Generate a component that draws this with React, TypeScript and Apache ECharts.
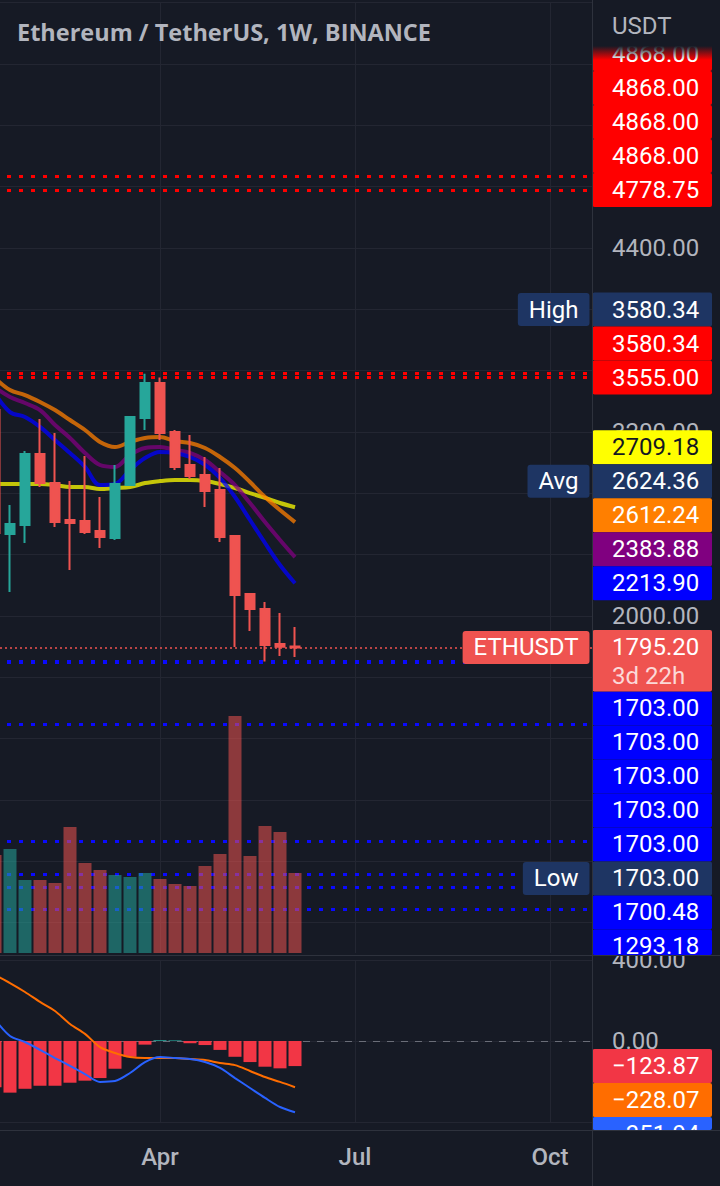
import { useEffect, useRef } from 'react';
import * as echarts from 'echarts';

// ---------- data ----------
const WEEKS = [
  '2022-01-17', '2022-01-24', '2022-01-31', '2022-02-07', '2022-02-14', '2022-02-21', '2022-02-28',
  '2022-03-07', '2022-03-14', '2022-03-21', '2022-03-28', '2022-04-04', '2022-04-11', '2022-04-18',
  '2022-04-25', '2022-05-02', '2022-05-09', '2022-05-16', '2022-05-23', '2022-05-30', '2022-06-06',
  '2022-06-13', '2022-06-20', '2022-06-27', '2022-07-04', '2022-07-11', '2022-07-18', '2022-07-25',
  '2022-08-01', '2022-08-08', '2022-08-15', '2022-08-22', '2022-08-29', '2022-09-05', '2022-09-12',
  '2022-09-19', '2022-09-26', '2022-10-03', '2022-10-10', '2022-10-17', '2022-10-24',
];
const MONTH_TICKS: Record<string, string> = { '2022-04-04': 'Apr', '2022-07-04': 'Jul', '2022-10-03': 'Oct' };

const OPEN = [3343, 2535, 2593, 3057, 2867, 2626, 2620, 2554, 2509, 2854, 3291, 3520, 3200, 2985, 2920, 2822, 2522, 2143, 2046, 1817, 1801];
const CLOSE = [2541, 2600, 3057, 2867, 2613, 2607, 2548, 2515, 2861, 3298, 3520, 3193, 2972, 2913, 2815, 2515, 2137, 2046, 1811, 1800, 1795.2];
const LOW = [2300, 2157, 2476, 2841, 2580, 2300, 2535, 2443, 2496, 2850, 3213, 3148, 2952, 2893, 2711, 2483, 1798, 1902, 1703, 1739, 1733];
const HIGH = [3410, 2724, 3076, 3285, 3193, 2880, 3043, 2776, 2985, 3305, 3580.34, 3555, 3213, 3180, 3037, 2965, 2528, 2150, 2091, 2020, 1928];
const VOLUME = [3920, 4160, 2920, 2920, 2800, 5040, 3600, 3320, 3120, 3040, 3200, 2960, 2760, 2680, 3480, 3960, 9480, 3880, 5080, 4840, 3200];

const MA_ORANGE = [3552, 3474, 3441, 3396, 3343, 3278, 3213, 3135, 3102, 3135, 3161, 3167, 3141, 3128, 3096, 3037, 2965, 2874, 2776, 2691, 2612.24];
const MA_PURPLE = [3490, 3428, 3389, 3343, 3246, 3161, 3063, 2985, 2972, 3050, 3096, 3102, 3083, 3063, 3017, 2939, 2854, 2737, 2613, 2496, 2383.88];
const MA_BLUE = [3450, 3330, 3298, 3233, 3148, 3063, 2972, 2854, 2861, 2952, 3030, 3070, 3063, 3037, 2985, 2900, 2776, 2626, 2476, 2333, 2213.9];
const MA_YELLOW = [2861, 2861, 2861, 2861, 2854, 2841, 2841, 2828, 2835, 2841, 2867, 2880, 2887, 2887, 2880, 2861, 2835, 2802, 2770, 2737, 2709.18];

const MACD_LINE = [106, 25, -5, -44, -84, -123, -163, -202, -198, -158, -104, -79, -84, -89, -104, -133, -183, -232, -281, -326, -351.94];
const MACD_SIGNAL = [326, 286, 242, 193, 148, 84, 35, -30, -59, -79, -84, -84, -84, -89, -94, -109, -119, -148, -178, -202, -228.07];
const MACD_HIST = [-229, -255, -236, -221, -221, -206, -196, -183, -137, -78, -18, 4, 3, -11, -20, -44, -78, -104, -127, -135, -123.87];

const RED_LEVELS = [4868, 4868, 4868, 4868, 4778.75, 3580.34, 3555];
const BLUE_LEVELS = [1703, 1703, 1703, 1703, 1703, 1700.48, 1293.18, 532, 317, 232, 89];
const HIGH_STAT = 3580.34;
const AVG_STAT = 2624.36;
const LOW_STAT = 1703.0;
const LAST_PRICE = 1795.2;
const COUNTDOWN = '3d 22h';
const SYMBOL = 'ETHUSDT';
const CURRENCY = 'USDT';
const TITLE = 'Ethereum / TetherUS, 1W, BINANCE';

const PRICE_MIN = 0;
const PRICE_MAX = 6000;
const PRICE_STEP = 400;
const MACD_MIN = -400;
const MACD_MAX = 400;
const MACD_STEP = 400;
const VOL_MAX = 10000;

// ---------- styles ----------
const BG = '#161a25';
const GRID = '#232632';
const SEP = '#2e323d';
const TXT = '#b2b5be';
const UP = '#26a69a';
const DOWN = '#ef5350';
const NAVY = '#1e3563';
const FONT = 'Roboto';

const last = (a: number[]) => a[a.length - 1];
const fmt = (v: number) => (v < 0 ? '\u2212' + Math.abs(v).toFixed(2) : v.toFixed(2));

export default function App() {
  const ref = useRef<HTMLDivElement>(null);

  useEffect(() => {
    document.body.style.margin = '0';
    document.body.style.background = BG;
    const chart = echarts.init(ref.current!, null, { renderer: 'svg' });

    const isMonth = (i: number) => MONTH_TICKS[WEEKS[i]] !== undefined;
    const xAxis = (gi: number, labels: boolean) => ({
      type: 'category',
      gridIndex: gi,
      data: WEEKS,
      boundaryGap: false,
      axisLine: { show: false },
      axisTick: { show: false },
      axisLabel: labels
        ? {
            show: true,
            interval: (i: number) => isMonth(i),
            formatter: (v: string) => MONTH_TICKS[v] ?? '',
            color: TXT,
            fontFamily: FONT,
            fontSize: 24,
            fontWeight: 500,
            margin: 23,
          }
        : { show: false },
      splitLine: { show: true, interval: (i: number) => isMonth(i), lineStyle: { color: GRID, width: 1 } },
    });

    const candles = OPEN.map((o, i) => [o, CLOSE[i], LOW[i], HIGH[i]]);
    const lineStyleDots = (color: string) => ({ color, width: 3, type: [4, 8] as number[] });

    const maSeries = (data: number[], color: string, extra: any = {}) => ({
      type: 'line',
      xAxisIndex: 0,
      yAxisIndex: 0,
      data,
      smooth: 0.35,
      showSymbol: false,
      symbol: 'none',
      lineStyle: { color, width: 4, opacity: 0.75 },
      z: 8,
      silent: true,
      ...extra,
    });

    const gridBase = { left: -5, width: 600, containLabel: false, outerBoundsMode: 'none' };

    const option: any = {
      animation: false,
      backgroundColor: BG,
      title: {
        text: TITLE,
        left: 17,
        top: 19,
        padding: 0,
        textStyle: { color: TXT, fontFamily: '"Open Sans"', fontWeight: 700, fontSize: 23.5, lineHeight: 25 },
      },
      grid: [
        { ...gridBase, top: 2.667, height: 920 },
        { ...gridBase, top: 703, height: 250 },
        { ...gridBase, top: 960, height: 162 },
      ],
      xAxis: [xAxis(0, false), xAxis(1, false), xAxis(2, true)],
      yAxis: [
        {
          type: 'value',
          gridIndex: 0,
          position: 'right',
          min: PRICE_MIN,
          max: PRICE_MAX,
          interval: PRICE_STEP,
          axisLine: { show: false },
          axisTick: { show: false },
          axisLabel: {
            margin: 17,
            color: TXT,
            fontFamily: FONT,
            fontSize: 24,
            formatter: (v: number) => (v >= PRICE_MAX ? '' : v.toFixed(2)),
          },
          splitLine: { lineStyle: { color: GRID, width: 1 } },
        },
        { type: 'value', gridIndex: 1, min: 0, max: VOL_MAX, show: false },
        {
          type: 'value',
          gridIndex: 2,
          position: 'right',
          min: MACD_MIN,
          max: MACD_MAX,
          interval: MACD_STEP,
          axisLine: { show: false },
          axisTick: { show: false },
          axisLabel: {
            margin: 17,
            color: TXT,
            fontFamily: FONT,
            fontSize: 24,
            formatter: (v: number) => (v < 0 ? '' : v.toFixed(2)),
          },
          splitLine: { lineStyle: { color: GRID, width: 1 } },
        },
      ],
      series: [
        {
          type: 'bar',
          xAxisIndex: 1,
          yAxisIndex: 1,
          barWidth: 13,
          z: 9,
          silent: true,
          data: VOLUME.map((v, i) => ({
            value: v,
            itemStyle: { color: CLOSE[i] >= OPEN[i] ? 'rgba(38,166,154,0.55)' : 'rgba(239,83,80,0.55)' },
          })),
        },
        maSeries(MA_YELLOW, '#ffff00', {
          markLine: {
            silent: true,
            symbol: ['none', 'none'],
            label: { show: false },
            animation: false,
            data: [
              ...RED_LEVELS.map((v) => ({ yAxis: v, lineStyle: lineStyleDots('#ff0000') })),
              ...BLUE_LEVELS.map((v) => ({ yAxis: v, lineStyle: lineStyleDots('#0a0aff') })),
              { yAxis: LAST_PRICE, lineStyle: { color: DOWN, width: 1.5, type: [2, 3] } },
            ],
          },
        }),
        maSeries(MA_ORANGE, '#ff7f00'),
        maSeries(MA_PURPLE, '#800080'),
        maSeries(MA_BLUE, '#0000ff'),
        {
          type: 'candlestick',
          xAxisIndex: 0,
          yAxisIndex: 0,
          data: candles,
          barWidth: 10,
          z: 10,
          silent: true,
          itemStyle: { color: UP, color0: DOWN, borderColor: UP, borderColor0: DOWN, borderWidth: 2 },
        },
        {
          type: 'bar',
          xAxisIndex: 2,
          yAxisIndex: 2,
          barWidth: 13,
          z: 10,
          silent: true,
          data: MACD_HIST.map((v) => ({ value: v, itemStyle: { color: v >= 0 ? UP : '#f23645' } })),
          markLine: {
            silent: true,
            symbol: ['none', 'none'],
            label: { show: false },
            animation: false,
            data: [{ yAxis: 0 }],
            lineStyle: { color: '#6a6d78', width: 1, type: [7, 7] },
          },
        },
        {
          type: 'line',
          xAxisIndex: 2,
          yAxisIndex: 2,
          data: MACD_SIGNAL,
          smooth: 0.3,
          showSymbol: false,
          symbol: 'none',
          lineStyle: { color: '#ff6d00', width: 2 },
          z: 11,
          silent: true,
        },
        {
          type: 'line',
          xAxisIndex: 2,
          yAxisIndex: 2,
          data: MACD_LINE,
          smooth: 0.3,
          showSymbol: false,
          symbol: 'none',
          lineStyle: { color: '#2962ff', width: 2 },
          z: 11,
          silent: true,
        },
      ],
    };

    chart.setOption(option);

    // ---------- price-scale labels ----------
    const yP = (v: number) => chart.convertToPixel({ yAxisIndex: 0 }, v) as number;
    const yM = (v: number) => chart.convertToPixel({ yAxisIndex: 2 }, v) as number;
    const H = 34;
    const AX_X = 592.5;
    const BOX_W = 119.5;
    const TEXT_X = 612;
    const els: any[] = [];
    const covered: [number, number][] = [];

    const box = (yc: number, text: string, bg: string, fg: string, clipTop: number, clipBottom: number) => {
      const top = Math.max(yc - H / 2, clipTop);
      const bottom = Math.min(yc + H / 2, clipBottom);
      if (bottom <= top) return;
      covered.push([top, bottom]);
      els.push({ type: 'rect', shape: { x: AX_X, y: top, width: BOX_W, height: bottom - top, r: 2 }, style: { fill: bg }, z: 100, silent: true });
      els.push({
        type: 'text',
        x: TEXT_X,
        y: yc,
        style: { text, fill: fg, fontFamily: FONT, fontSize: 24, align: 'left', verticalAlign: 'middle' },
        z: 101,
        silent: true,
      });
    };
    const tag = (yc: number, text: string, bg: string) => {
      els.push({
        type: 'text',
        x: 589.5,
        y: yc,
        style: {
          text,
          fill: '#ffffff',
          fontFamily: FONT,
          fontSize: 24,
          align: 'right',
          verticalAlign: 'middle',
          backgroundColor: bg,
          padding: [4, 11],
          lineHeight: 25,
          borderRadius: 3,
        },
        z: 100,
        silent: true,
      });
    };

    type Lbl = { value: number; bg: string; fg: string; tag?: string };
    const all: Lbl[] = [
      { value: HIGH_STAT, bg: NAVY, fg: '#ffffff', tag: 'High' },
      ...RED_LEVELS.map((v) => ({ value: v, bg: '#ff0000', fg: '#ffffff' })),
      { value: AVG_STAT, bg: NAVY, fg: '#ffffff', tag: 'Avg' },
      { value: last(MA_YELLOW), bg: '#ffff00', fg: '#131722' },
      { value: last(MA_ORANGE), bg: '#ff7f00', fg: '#ffffff' },
      { value: last(MA_PURPLE), bg: '#800080', fg: '#ffffff' },
      { value: last(MA_BLUE), bg: '#0000ff', fg: '#ffffff' },
      ...BLUE_LEVELS.map((v) => ({ value: v, bg: '#0000ff', fg: '#ffffff' })),
      { value: LOW_STAT, bg: NAVY, fg: '#ffffff', tag: 'Low' },
    ];
    const yLast = yP(LAST_PRICE);
    const ethTop = yLast - 17.5;
    const ethBottom = ethTop + 61.5;

    const above = all.filter((l) => l.value > LAST_PRICE).sort((a, b) => b.value - a.value);
    const below = all.filter((l) => l.value <= LAST_PRICE).sort((a, b) => b.value - a.value);

    let limit = ethTop;
    const aboveY: number[] = [];
    for (let i = above.length - 1; i >= 0; i--) {
      const y = Math.min(yP(above[i].value), limit - H / 2);
      aboveY[i] = y;
      limit = y - H / 2;
    }
    above.forEach((l, i) => {
      box(aboveY[i], fmt(l.value), l.bg, l.fg, 0, 955);
      if (l.tag) tag(aboveY[i], l.tag, l.bg);
    });

    limit = ethBottom;
    below.forEach((l) => {
      const y = Math.max(yP(l.value), limit + H / 2);
      limit = y + H / 2;
      box(y, fmt(l.value), l.bg, l.fg, 0, 955);
      if (l.tag && y - H / 2 < 955) tag(y, l.tag, l.bg);
    });

    // current price label
    covered.push([ethTop, ethBottom]);
    els.push({ type: 'rect', shape: { x: AX_X, y: ethTop, width: BOX_W, height: 61.5, r: 2 }, style: { fill: DOWN }, z: 100, silent: true });
    els.push({ type: 'text', x: TEXT_X, y: yLast, style: { text: fmt(LAST_PRICE), fill: '#ffffff', fontFamily: FONT, fontSize: 24, verticalAlign: 'middle' }, z: 101, silent: true });
    els.push({ type: 'text', x: TEXT_X, y: yLast + 28.5, style: { text: COUNTDOWN, fill: 'rgba(255,255,255,0.78)', fontFamily: FONT, fontSize: 24, verticalAlign: 'middle' }, z: 101, silent: true });
    tag(yLast, SYMBOL, DOWN);

    // MACD labels
    const macdLbls = [
      { value: last(MACD_HIST), bg: '#f23645' },
      { value: last(MACD_SIGNAL), bg: '#ff6d00' },
      { value: last(MACD_LINE), bg: '#2962ff' },
    ].sort((a, b) => b.value - a.value);
    let mlim = -Infinity;
    macdLbls.forEach((l) => {
      const y = Math.max(yM(l.value), mlim + H / 2);
      mlim = y + H / 2;
      box(y, fmt(l.value), l.bg, '#ffffff', 955.5, 1130);
    });

    // covers & separators
    els.push({ type: 'rect', shape: { x: 593, y: 0, width: 4, height: 1186 }, style: { fill: BG }, z: 50, silent: true });
    els.push({ type: 'rect', shape: { x: 593, y: 0, width: 127, height: 46 }, style: { fill: BG }, z: 110, silent: true });
    els.push({
      type: 'rect',
      shape: { x: 593, y: 46, width: 127, height: 14 },
      style: {
        fill: new echarts.graphic.LinearGradient(0, 0, 0, 1, [
          { offset: 0, color: 'rgba(22,26,37,1)' },
          { offset: 1, color: 'rgba(22,26,37,0)' },
        ]),
      },
      z: 110,
      silent: true,
    });
    els.push({ type: 'text', x: TEXT_X, y: 26, style: { text: CURRENCY, fill: TXT, fontFamily: FONT, fontSize: 24, verticalAlign: 'middle' }, z: 111, silent: true });
    els.push({ type: 'rect', shape: { x: 593, y: 1131, width: 127, height: 55 }, style: { fill: BG }, z: 110, silent: true });
    els.push({ type: 'line', shape: { x1: 592.5, y1: 0, x2: 592.5, y2: 1186 }, style: { stroke: SEP, lineWidth: 1 }, z: 112, silent: true });
    els.push({ type: 'line', shape: { x1: 0, y1: 955.5, x2: 720, y2: 955.5 }, style: { stroke: SEP, lineWidth: 1 }, z: 112, silent: true });
    els.push({ type: 'line', shape: { x1: 0, y1: 1130.5, x2: 720, y2: 1130.5 }, style: { stroke: SEP, lineWidth: 1 }, z: 112, silent: true });

    // hide price-axis tick labels that sit fully under the label boxes (as the reference's scale does)
    const isCovered = (y: number) => covered.some(([t, b]) => y >= t && y <= b);
    const priceFormatter = (v: number) => {
      if (v >= PRICE_MAX) return '';
      const y = yP(v);
      for (let d = -6; d <= 6; d++) if (!isCovered(y + d)) return v.toFixed(2);
      return '';
    };

    chart.setOption({
      yAxis: [{ axisLabel: { formatter: priceFormatter } }, {}, {}],
      graphic: { elements: els },
    });

    return () => chart.dispose();
  }, []);

  return <div ref={ref} style={{ position: 'fixed', left: 0, top: 0, width: 720, height: 1186 }} />;
}
